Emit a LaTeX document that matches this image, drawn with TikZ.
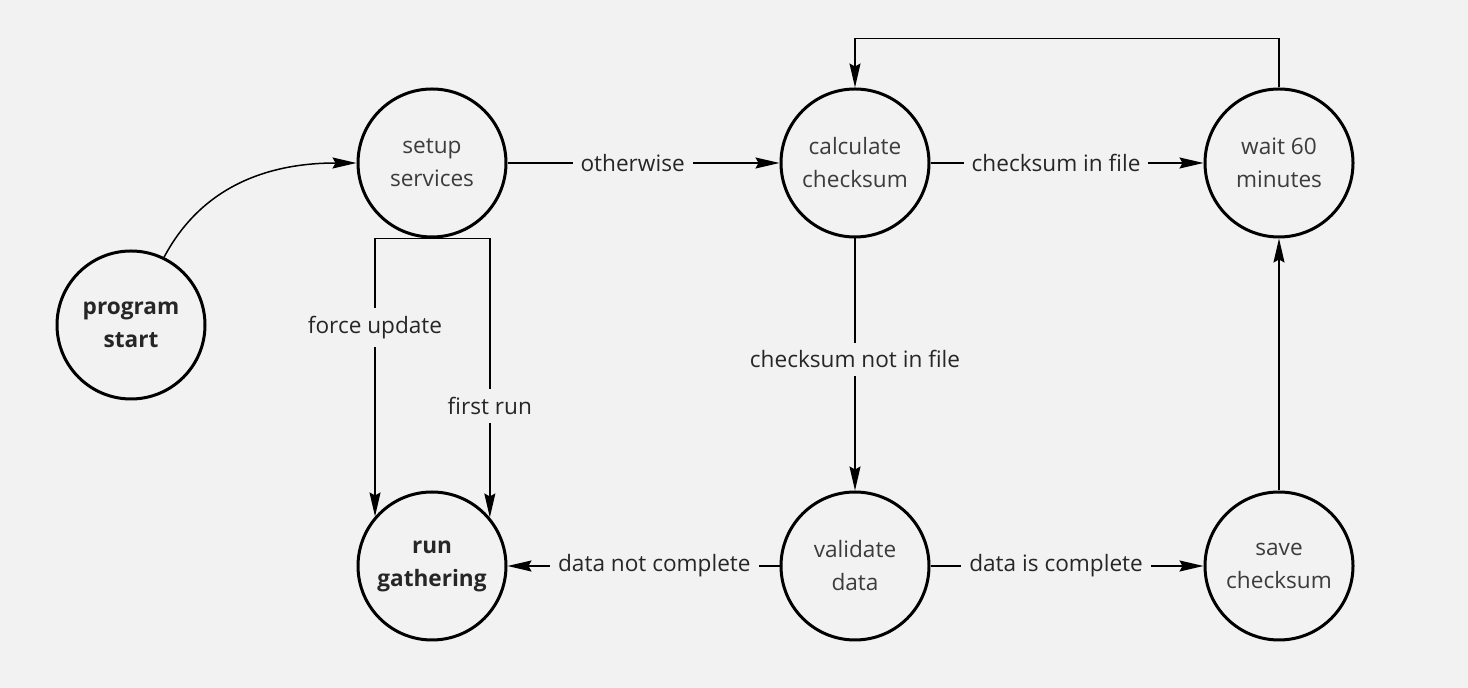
\documentclass[tikz,border=0pt]{standalone}
\usepackage{fontspec}
\setmainfont{Open Sans}
\usetikzlibrary{arrows.meta}

\definecolor{paper}{HTML}{F2F2F2}
\definecolor{statetext}{HTML}{3C3C3C}
\definecolor{labeltext}{HTML}{262626}

\begin{document}
\begin{tikzpicture}[x=0.5pt, y=-0.5pt]
        \tikzstyle{state} = [shape=circle, draw, line width=1.5pt, minimum size=74pt, inner sep=0pt,
            align=center, text=statetext, font=\fontsize{11.3}{16.5}\selectfont]
        \tikzstyle{startstate} = [state, text=black!85, font=\fontsize{11.3}{16.5}\selectfont\bfseries]
        \tikzstyle{edge} = [line width=0.75pt, -{Stealth[length=12pt, width=5.5pt, inset=1.5pt]}]
        \tikzstyle{lab}  = [fill=paper, inner sep=4pt, pos=0.46, text=labeltext,
            font=\fontsize{11.3}{13}\selectfont]

        \fill[paper] (0, 0) rectangle (1468, 688);

        % states
        \node[startstate] (start)  at (131, 325) {program\\start};
        \node[state]      (setup)  at (432, 163) {setup\\services};
        \node[state]      (calc)   at (855, 163) {calculate\\checksum};
        \node[state]      (wait)   at (1279,163) {wait 60\\minutes};
        \node[startstate] (run)    at (432, 566) {run\\gathering};
        \node[state]      (valid)  at (855, 566) {validate\\data};
        \node[state]      (save)   at (1279,566) {save\\checksum};

        % transitions
        \draw[edge] (start.64) to[out=62, in=180] (setup.west);

        \draw[edge] (setup) -- node[lab] {otherwise} (calc);
        \draw[edge] (calc)  -- node[lab] {checksum in file} (wait);
        \draw[edge] (wait.north) -- ++(0, -49) -| (calc.north);

        \draw[edge] (calc)  -- node[lab, pos=0.48] {checksum not in file} (valid);
        \draw[edge] (valid) -- node[lab] {data not complete} (run);
        \draw[edge] (valid) -- node[lab] {data is complete} (save);
        \draw[edge] (save)  -- (wait);

        \draw[edge] (setup.south) -| node[lab, pos=0.66] {force update} (run.139.5);
        \draw[edge] (setup.south) -| node[lab, pos=0.80] {first run} (run.40.5);

\end{tikzpicture}
\end{document}
